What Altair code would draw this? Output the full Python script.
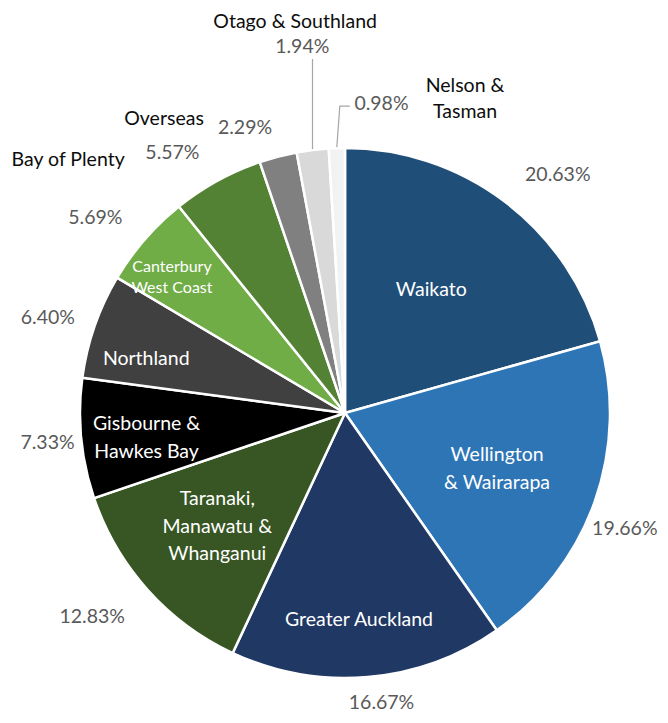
import math
import pandas as pd
import altair as alt

# ---------------- data ----------------
regions = ["Waikato", "Wellington & Wairarapa", "Greater Auckland",
           "Taranaki, Manawatu & Whanganui", "Gisbourne & Hawkes Bay", "Northland",
           "Canterbury West Coast", "Bay of Plenty", "Overseas",
           "Otago & Southland", "Nelson & Tasman"]
shares = [20.63, 19.66, 16.67, 12.83, 7.33, 6.40, 5.69, 5.57, 2.29, 1.94, 0.98]
colors = ["#1F4E79", "#2E75B6", "#203864", "#375623", "#000000", "#404040",
          "#70AD47", "#548235", "#808080", "#D9D9D9", "#F2F2F2"]

inside_names = {0: "Waikato", 1: "Wellington\n& Wairarapa", 2: "Greater Auckland",
                3: "Taranaki,\nManawatu &\nWhanganui", 4: "Gisbourne &\nHawkes Bay",
                5: "Northland"}
small_inside_names = {6: "Canterbury\nWest Coast"}
outside_names = {7: "Bay of Plenty", 8: "Overseas", 9: "Otago & Southland",
                 10: "Nelson &\nTasman"}

# ---------------- style / placement ----------------
W, H = 652, 707
CX, CY, R = 337, 405, 265
FONT = "Lato"
FS = 19.5

# (angle offset from slice middle in degrees, label radius px)
inside_place = {0: (-2.0, 150), 1: (0.5, 162), 2: (1.05, 207), 3: (0.15, 171),
                4: (-1.7, 200), 5: (-3.95, 206)}
small_inside_place = {6: (-2.8, 220)}
pct_place = {0: (4.7, 319), 1: (2.9, 303), 2: (-2.25, 292), 3: (2.9, 325),
             4: (-0.2, 299), 5: (-1.45, 312), 6: (-2.9, 317), 7: (-4.8, 312),
             8: (-4.7, 302), 9: (0.35, 368), 10: (8.5, 311)}
outside_place = {7: (-18.8, 375), 8: (-17.0, 345), 9: (-0.25, 394), 10: (22.7, 336)}

total = sum(shares)
mids = []
acc = 0.0
for v in shares:
    mids.append((acc + v / 2) / total * 360.0)
    acc += v


def polar(ang_deg, r):
    a = math.radians(ang_deg)
    return CX + r * math.sin(a), CY - r * math.cos(a)


def label_frame(texts, place, line_height):
    rows = []
    for i, t in texts.items():
        off, r = place[i]
        x, y = polar(mids[i] + off, r)
        n = t.count("\n") + 1
        rows.append({"label": t, "x": x, "y": y - (n - 1) * line_height / 2})
    return pd.DataFrame(rows)


pie_df = pd.DataFrame({"region": regions, "share": shares,
                       "idx": list(range(len(regions)))})

pie = alt.Chart(pie_df).mark_arc(outerRadius=R, stroke="white", strokeWidth=2.5).encode(
    theta=alt.Theta("share:Q", stack=True),
    order=alt.Order("idx:Q", sort="ascending"),
    color=alt.Color("region:N", scale=alt.Scale(domain=regions, range=colors), legend=None),
    x=alt.value(CX), y=alt.value(CY),
)


def text_layer(texts, place, color, size, line_height):
    df = label_frame(texts, place, line_height)
    return alt.Chart(df).mark_text(
        font=FONT, fontSize=size, color=color, align="center", baseline="middle",
        lineBreak="\n", lineHeight=line_height,
    ).encode(
        x=alt.X("x:Q", scale=None), y=alt.Y("y:Q", scale=None), text="label:N"
    )


pct_texts = {i: f"{v:.2f}%" for i, v in enumerate(shares)}

# leader lines (Otago & Southland, Nelson & Tasman)
ox, oy = polar(mids[9], R + 1)
nx, ny = polar(mids[10], R + 1)
lead_df = pd.DataFrame({
    "line": ["otago", "otago", "nelson", "nelson", "nelson"],
    "step": [0, 1, 0, 1, 2],
    "x": [ox, ox, nx, nx + 3, nx + 13],
    "y": [oy, oy - 90, ny, ny - 41, ny - 41],
})
leaders = alt.Chart(lead_df).mark_line(color="#A6A6A6", strokeWidth=1.2).encode(
    x=alt.X("x:Q", scale=None), y=alt.Y("y:Q", scale=None),
    detail="line:N", order="step:Q",
)

layers = [
    pie,
    leaders,
    text_layer(inside_names, inside_place, "white", FS, 27.5),
    text_layer(small_inside_names, small_inside_place, "white", 16, 21),
    text_layer(pct_texts, pct_place, "#595959", FS, 26),
    text_layer(outside_names, outside_place, "#0D0D0D", FS, 26),
]

chart = alt.layer(*layers).properties(
    width=W, height=H, padding=0, autosize="none"
).configure_view(stroke=None)

chart.save("out.html", embed_options={"renderer": "svg", "actions": False})
